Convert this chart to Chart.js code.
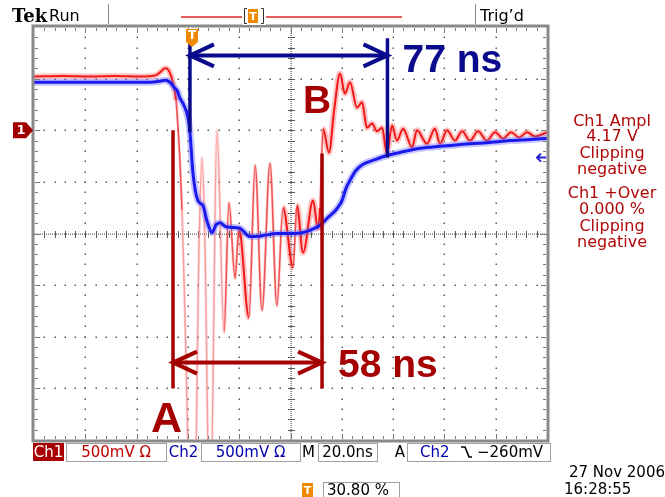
<!DOCTYPE html>
<html><head><meta charset="utf-8">
<script src="https://cdn.jsdelivr.net/npm/chart.js@4.4.0/dist/chart.umd.min.js"></script>
<style>html,body{margin:0;padding:0;background:#fff;}canvas{display:block;}</style>
</head><body>
<canvas id="c" width="665" height="497"></canvas>
<script>
// ---- data (time in ns relative to trigger, amplitude in screen divisions) ----
const timeCh1 = [-61.6,-50,-40,-30,-20.3,-14.4,-12.5,-10.5,-9.4,-8.2,-7.4,-6.2,-5.5,-4.7,-3.9,-3.1,-2.3,-1.6,-0.8,1.2,2.7,3.9,5.1,6.6,7.4,9.7,12.5,14.4,16.8,18.3,22.2,24.6,27.3,30.4,33.1,35.5,39.4,40.9,43.3,47.2,49.1,49.9,51.1,53.4,55.4,57.7,59.6,61.6,64.3,66.3,68.2,70.2,72.1,74.1,76.0,78.0,79.9,82.3,85.8,87.7,91.6,94.7,96.7,99.4,102.5,105.3,108.4,111.5,115.0,118.1,121.3,124.4,127.5,130.6,133.7,138.4];
const ch1Div  = [3.04,3.05,3.04,3.05,3.04,3.06,3.12,3.20,3.18,3.06,2.91,2.58,2.09,1.41,0.45,-0.91,-2.46,-4.1,-4.8,-4.8,-0.33,1.47,-0.33,-4.8,-4.8,2.00,-1.92,0.60,-0.87,0.10,-1.63,1.32,-1.49,1.36,-1.40,0.50,-0.66,0.54,-0.37,0.64,0.10,0.50,2.03,1.57,2.38,3.10,2.71,2.93,2.44,2.54,2.05,2.13,1.98,2.05,1.55,2.09,1.80,2.03,1.67,2.00,1.74,2.03,1.74,2.00,1.80,1.98,1.80,1.98,1.80,1.96,1.84,1.96,1.86,1.96,1.88,1.96];
const timeCh2 = [-61.6,-35.9,-16.4,-12.5,-10.5,-8.6,-6.6,-5.8,-4.7,-3.5,-1.6,-0.8,0.4,2.3,4.3,5.8,7.8,9.4,10.9,12.9,14.8,18.7,22.6,27.7,33.1,38.2,43.3,46.8,49.9,53.0,56.5,58.5,60.0,61.6,63.9,66.7,71.3,76.0,81.1,88.9,96.7,101.8,108.4,115.0,124.0,131.8,138.4];
const ch2Div  = [2.93,2.93,2.93,2.95,2.97,2.93,2.81,2.77,2.62,2.52,2.25,1.96,1.16,0.64,0.54,0.25,0.02,0.17,0.21,0.14,0.12,0.10,-0.06,-0.04,0.00,0.00,0.02,0.08,0.16,0.31,0.48,0.64,0.87,1.03,1.22,1.34,1.43,1.51,1.57,1.65,1.69,1.71,1.74,1.76,1.80,1.82,1.84];
const timePerDiv = 20;            // ns / div
const xMin = -61.6, xMax = 138.4; // trigger at 30.80 %
const yMin = -4, yMax = 4;
const measA = {t0:-7.4, t1:50.7, top0:2.0, top1:1.55, bottom:-3.0, arrowY:-2.5, label:'58 ns', tag:'A'};
const measB = {t0:-0.8, t1:76.2, top:3.78, bottom0:1.96, bottom1:1.47, arrowY:3.45, label:'77 ns', tag:'B'};
const ch1Level = 2.0, ch2Level = 1.47;
const sideText = ['Ch1 Ampl','4.17 V','Clipping','negative','Ch1 +Over','0.000 %','Clipping','negative'];

const pts = (xs, ys) => xs.map((x,i)=>({x, y:ys[i]}));
const slope = c => Math.abs(c.p1.y-c.p0.y)/Math.max(0.5,Math.abs(c.p1.x-c.p0.x));
const coreColor = c => { const s = slope(c); return s>28 ? 'rgba(240,100,100,0.55)' : (s>12 ? 'rgba(236,50,50,0.8)' : undefined); };
const coreWidth = c => { const s = slope(c); return s>28 ? 1.5 : (s>12 ? 1.6 : undefined); };
const haloColor = c => { const s = slope(c); return s>28 ? 'rgba(255,150,150,0.25)' : (s>12 ? 'rgba(255,130,130,0.3)' : undefined); };

const DR = '#a50000', NAVY = '#0a0a8c';
const scopeFont = '"DejaVu Sans", sans-serif';
const bigFont = '"Liberation Sans", Arial, sans-serif';

function arrowHead(ctx, x, y, dir){
  ctx.beginPath();
  ctx.moveTo(x+dir*24, y-11); ctx.lineTo(x, y); ctx.lineTo(x+dir*24, y+11);
  ctx.stroke();
}

const scopePlugin = {
  id:'scope',
  beforeDatasetsDraw(chart){
    const ctx = chart.ctx, xs = chart.scales.x, ys = chart.scales.y;
    ctx.save();
    ctx.fillStyle = '#5a5a5a';
    for (let i=1;i<10;i++){
      if (i===5) continue;
      const px = Math.round(xs.getPixelForValue(xMin+i*timePerDiv));
      for (let j=1;j<40;j++){ const py = Math.round(ys.getPixelForValue(yMin+j*0.2)); ctx.fillRect(px-0.5,py-0.5,1.5,1.5); }
    }
    for (let j=1;j<8;j++){
      if (j===4) continue;
      const py = Math.round(ys.getPixelForValue(yMin+j));
      for (let i=1;i<50;i++){ const px = Math.round(xs.getPixelForValue(xMin+i*timePerDiv/5)); ctx.fillRect(px-0.5,py-0.5,1.5,1.5); }
    }
    // center cross
    const cx = Math.round(xs.getPixelForValue(xMin+5*timePerDiv)), cy = Math.round(ys.getPixelForValue(0));
    const {left,right,top,bottom} = chart.chartArea;
    for (let y=top; y<bottom; y+=2) ctx.fillRect(cx-0.5,y,1.2,1);
    for (let x=left; x<right; x+=2) ctx.fillRect(x,cy-0.5,1,1.2);
    for (let j=1;j<40;j++){ const py = Math.round(ys.getPixelForValue(yMin+j*0.2)); ctx.fillRect(cx-3,py,7,1); }
    for (let i=1;i<50;i++){ const px = Math.round(xs.getPixelForValue(xMin+i*timePerDiv/5)); ctx.fillRect(px,cy-3,1,7); }
    ctx.restore();
  },
  afterDatasetsDraw(chart){
    const ctx = chart.ctx, xs = chart.scales.x, ys = chart.scales.y;
    const X = v=>xs.getPixelForValue(v), Y = v=>ys.getPixelForValue(v);
    ctx.save();
    ctx.lineCap = 'butt'; ctx.lineJoin = 'miter';
    // measurement A (dark red)
    ctx.strokeStyle = DR; ctx.fillStyle = DR; ctx.lineWidth = 3.5;
    ctx.beginPath();
    ctx.moveTo(X(measA.t0), Y(measA.top0)); ctx.lineTo(X(measA.t0), Y(measA.bottom));
    ctx.moveTo(X(measA.t1), Y(measA.top1)); ctx.lineTo(X(measA.t1), Y(measA.bottom));
    ctx.stroke();
    ctx.lineWidth = 4;
    ctx.beginPath(); ctx.moveTo(X(measA.t0), Y(measA.arrowY)); ctx.lineTo(X(measA.t1), Y(measA.arrowY)); ctx.stroke();
    arrowHead(ctx, X(measA.t0), Y(measA.arrowY), 1);
    arrowHead(ctx, X(measA.t1), Y(measA.arrowY), -1);
    ctx.font = 'bold 39px '+bigFont; ctx.textBaseline = 'alphabetic'; ctx.textAlign='left';
    ctx.fillText(measA.label, X(measA.t1)+16, Y(measA.arrowY)+14);
    ctx.font = 'bold 43px '+bigFont;
    ctx.fillText(measA.tag, X(measA.t0)-22, 432);
    ctx.font = 'bold 39px '+bigFont;
    ctx.fillText(measB.tag, X(measA.t1)-19, 113);
    // measurement B (navy)
    ctx.strokeStyle = NAVY; ctx.fillStyle = NAVY; ctx.lineWidth = 3.5;
    ctx.beginPath();
    ctx.moveTo(X(measB.t0), Y(measB.top)); ctx.lineTo(X(measB.t0), Y(measB.bottom0));
    ctx.moveTo(X(measB.t1), Y(measB.top)); ctx.lineTo(X(measB.t1), Y(measB.bottom1));
    ctx.stroke();
    ctx.lineWidth = 4;
    ctx.beginPath(); ctx.moveTo(X(measB.t0), Y(measB.arrowY)); ctx.lineTo(X(measB.t1), Y(measB.arrowY)); ctx.stroke();
    arrowHead(ctx, X(measB.t0), Y(measB.arrowY), 1);
    arrowHead(ctx, X(measB.t1), Y(measB.arrowY), -1);
    ctx.font = 'bold 39px '+bigFont;
    ctx.fillText(measB.label, X(measB.t1)+15, Y(measB.arrowY)+17);
    ctx.restore();
  },
  afterDraw(chart){
    const ctx = chart.ctx, xs = chart.scales.x, ys = chart.scales.y;
    const {left,right,top,bottom} = chart.chartArea;
    ctx.save();
    // frame
    ctx.strokeStyle = '#8a8a8a'; ctx.lineWidth = 3;
    ctx.strokeRect(left-1, top-1, right-left+2, bottom-top+2);
    ctx.fillStyle = '#7a7a7a';
    for (let i=1;i<50;i++){
      const px = Math.round(xs.getPixelForValue(xMin+i*timePerDiv/5));
      const l = i%5===0?5:3;
      ctx.fillRect(px, top+1, 1, l); ctx.fillRect(px, bottom-1-l, 1, l);
    }
    for (let j=1;j<40;j++){
      const py = Math.round(ys.getPixelForValue(yMin+j*0.2));
      const l = j%5===0?5:3;
      ctx.fillRect(left+1, py, l, 1); ctx.fillRect(right-1-l, py, l, 1);
    }
    // trigger position marker
    const tx = xs.getPixelForValue(0);
    ctx.fillStyle = '#f28a00';
    ctx.beginPath();
    ctx.moveTo(tx-6, top+2); ctx.lineTo(tx+6, top+2); ctx.lineTo(tx+6, top+15); ctx.lineTo(tx, top+20); ctx.lineTo(tx-6, top+15); ctx.closePath(); ctx.fill();
    ctx.fillStyle = '#fff'; ctx.font = 'bold 12px '+scopeFont; ctx.textAlign='center'; ctx.textBaseline='middle';
    ctx.fillText('T', tx, top+9);
    // ch1 ground marker
    const g1 = ys.getPixelForValue(ch1Level);
    ctx.fillStyle = '#a00000';
    ctx.beginPath(); ctx.moveTo(13,g1-8); ctx.lineTo(26,g1-8); ctx.lineTo(33,g1); ctx.lineTo(26,g1+8); ctx.lineTo(13,g1+8); ctx.closePath(); ctx.fill();
    ctx.fillStyle = '#fff'; ctx.font = 'bold 13px '+scopeFont; ctx.fillText('1', 21, g1+0.5);
    // ch2 ground marker
    const g2 = ys.getPixelForValue(ch2Level);
    ctx.strokeStyle = '#2020d0'; ctx.lineWidth = 2;
    ctx.beginPath(); ctx.moveTo(546,g2); ctx.lineTo(537,g2); ctx.moveTo(541,g2-4); ctx.lineTo(537,g2); ctx.lineTo(541,g2+4); ctx.stroke();
    // top status bar
    ctx.textAlign='left'; ctx.textBaseline='alphabetic';
    ctx.fillStyle = '#000';
    ctx.font = 'bold 18px "DejaVu Serif", serif'; ctx.fillText('Tek', 12, 22);
    ctx.font = '16px '+scopeFont; ctx.fillText('Run', 49, 21);
    ctx.fillText("Trig\u2019d", 480, 21);
    ctx.strokeStyle = '#888'; ctx.lineWidth = 1;
    ctx.beginPath(); ctx.moveTo(108.5,4); ctx.lineTo(108.5,24); ctx.moveTo(475.5,4); ctx.lineTo(475.5,24); ctx.stroke();
    ctx.strokeStyle = '#e02828'; ctx.lineWidth = 1.5;
    ctx.beginPath(); ctx.moveTo(181,17); ctx.lineTo(402,17); ctx.stroke();
    ctx.fillStyle = '#fff'; ctx.fillRect(242,7,24,18);
    ctx.strokeStyle = '#333'; ctx.lineWidth = 1;
    ctx.beginPath(); ctx.moveTo(247,8.5); ctx.lineTo(244.5,8.5); ctx.lineTo(244.5,23.5); ctx.lineTo(247,23.5);
    ctx.moveTo(261,8.5); ctx.lineTo(263.5,8.5); ctx.lineTo(263.5,23.5); ctx.lineTo(261,23.5); ctx.stroke();
    ctx.fillStyle = '#f28a00'; ctx.fillRect(248,9,10,14);
    ctx.fillStyle = '#fff'; ctx.font='bold 11px '+scopeFont; ctx.textAlign='center'; ctx.fillText('T',253,20);
    // right measurement readout
    ctx.fillStyle = '#b00808'; ctx.font = '16px '+scopeFont; ctx.textAlign='center';
    const ly = [126,141,158,174,198,214,231,247];
    sideText.forEach((s,i)=>ctx.fillText(s, 612, ly[i]));
    // bottom bar
    ctx.font = '15px '+scopeFont; ctx.textBaseline='alphabetic';
    ctx.fillStyle = '#a80000'; ctx.fillRect(33,443,31,18);
    ctx.fillStyle = '#fff'; ctx.fillText('Ch1', 48.5, 457);
    ctx.strokeStyle = '#a0a0a0'; ctx.lineWidth = 1;
    const box = (x0,x1,y0,y1)=>ctx.strokeRect(x0+0.5,y0+0.5,x1-x0,y1-y0);
    box(66,166,443,461); box(201,300,443,461); box(318,377,443,461); box(407,550,443,461); box(323,399,482,497);
    ctx.fillStyle = '#c00000'; ctx.fillText('500mV \u03A9', 116, 457);
    ctx.fillStyle = '#0000b0'; ctx.fillText('Ch2', 183.5, 457); ctx.fillText('500mV \u03A9', 250.5, 457);
    ctx.fillStyle = '#000'; ctx.fillText('M', 308.5, 457); ctx.fillText('20.0ns', 347.5, 457); ctx.fillText('A', 400, 457);
    ctx.textAlign='left';
    ctx.fillStyle = '#0000b0'; ctx.fillText('Ch2', 420, 457);
    ctx.strokeStyle = '#000'; ctx.lineWidth = 1.6;
    ctx.beginPath(); ctx.moveTo(461,447); ctx.lineTo(465,447); ctx.lineTo(469,457); ctx.lineTo(472,457); ctx.stroke();
    ctx.fillStyle = '#000'; ctx.fillText('\u2212260mV', 477, 457);
    ctx.fillStyle = '#f28a00'; ctx.fillRect(302,483,11,14);
    ctx.fillStyle = '#fff'; ctx.font='bold 11px '+scopeFont; ctx.textAlign='center'; ctx.fillText('T',307.5,494);
    ctx.fillStyle = '#000'; ctx.font = '15px '+scopeFont; ctx.textAlign='left';
    ctx.fillText('30.80 %', 327, 495);
    ctx.textAlign='right'; ctx.fillText('27 Nov 2006', 665, 477);
    ctx.textAlign='left'; ctx.fillText('16:28:55', 564, 494);
    ctx.restore();
  }
};

new Chart(document.getElementById('c'), {
  type:'line',
  data:{ datasets:[
    { data: pts(timeCh2, ch2Div), borderColor:'#1a1aee', borderWidth:3, pointRadius:0, cubicInterpolationMode:'monotone', order:1 },
    { data: pts(timeCh2, ch2Div), borderColor:'rgba(110,110,255,0.4)', borderWidth:7, pointRadius:0, cubicInterpolationMode:'monotone', order:2 },
    { data: pts(timeCh1, ch1Div), borderColor:'#f01818', borderWidth:2, pointRadius:0, cubicInterpolationMode:'monotone', order:3,
      segment:{ borderColor: coreColor, borderWidth: coreWidth } },
    { data: pts(timeCh1, ch1Div), borderColor:'rgba(255,110,110,0.4)', borderWidth:6, pointRadius:0, cubicInterpolationMode:'monotone', order:4,
      segment:{ borderColor: haloColor, borderWidth: c=>slope(c)>12?3:undefined } }
  ]},
  options:{
    responsive:false, animation:false, devicePixelRatio:1,
    layout:{ padding:{ left:34, right:118, top:27, bottom:57 } },
    plugins:{ legend:{display:false}, tooltip:{enabled:false} },
    scales:{
      x:{ type:'linear', min:xMin, max:xMax, display:false },
      y:{ type:'linear', min:yMin, max:yMax, display:false }
    }
  },
  plugins:[scopePlugin]
});
</script>
</body></html>
